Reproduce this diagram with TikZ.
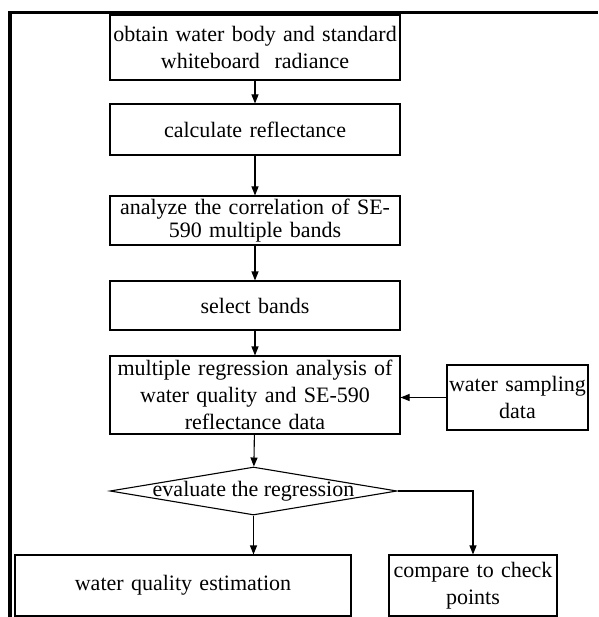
\documentclass[tikz,border=0pt]{standalone}
\usepackage{fontspec}
\setmainfont{Liberation Serif}
\usetikzlibrary{shapes.geometric,arrows.meta}

\tikzset{
  flowbox/.style={draw, line width=1.1pt, inner sep=0pt, align=center,
    font=\fontsize{22}{27}\selectfont},
  decide/.style={draw, diamond, line width=1.1pt, inner sep=0pt},
  flow/.style={line width=1.1pt, -{Triangle[length=9pt,width=7pt]}}
}

\begin{document}
\begin{tikzpicture}[x=1pt,y=-1pt]
\useasboundingbox (0,0) rectangle (598,617);

% frame
\draw[line width=3.5pt] (598,12.5) -- (10,12.5) -- (10,617);

% main column
\node[flowbox, text width=290pt, minimum height=65pt] (radiance) at (255,47.5) {obtain water body and standard\\ whiteboard~ radiance};
\node[flowbox, text width=290pt, minimum height=51pt] (reflect) at (255,129.5) {calculate reflectance};
\node[flowbox, text width=290pt, minimum height=49pt, font=\fontsize{22}{23}\selectfont] (correl) at (255,220.5) {analyze the correlation of SE-\\ 590 multiple bands};
\node[flowbox, text width=290pt, minimum height=49pt] (bands) at (255,305.5) {select bands};
\node[flowbox, text width=290pt, minimum height=78pt] (regress) at (255,395) {multiple regression analysis of\\ water quality and SE-590\\ reflectance data};

\node[flowbox, text width=141pt, minimum height=65pt] (sampling) at (517.5,397.5) {water sampling\\ data};

\node[decide, minimum width=287pt, minimum height=48pt,
  label={[font=\fontsize{22}{27}\selectfont]center:evaluate the regression}] (evaluate) at (253.5,491) {};

\node[flowbox, text width=336pt, minimum height=61pt] (estimate) at (183,585.5) {water quality estimation};
\node[flowbox, text width=168pt, minimum height=61pt] (check) at (473,585.5) {compare to check\\ points};

% connectors
\draw[flow] (radiance) -- (reflect);
\draw[flow] (reflect) -- (correl);
\draw[flow] (correl) -- (bands);
\draw[flow] (bands) -- (regress);
\draw[flow] (sampling.west) -- (sampling.west -| regress.east);
\draw[flow] (regress) -- (evaluate);
\draw[flow] (evaluate.south) -- (evaluate.south |- estimate.north);
\draw[flow] (evaluate.east) -| (check.north);

\end{tikzpicture}
\end{document}
